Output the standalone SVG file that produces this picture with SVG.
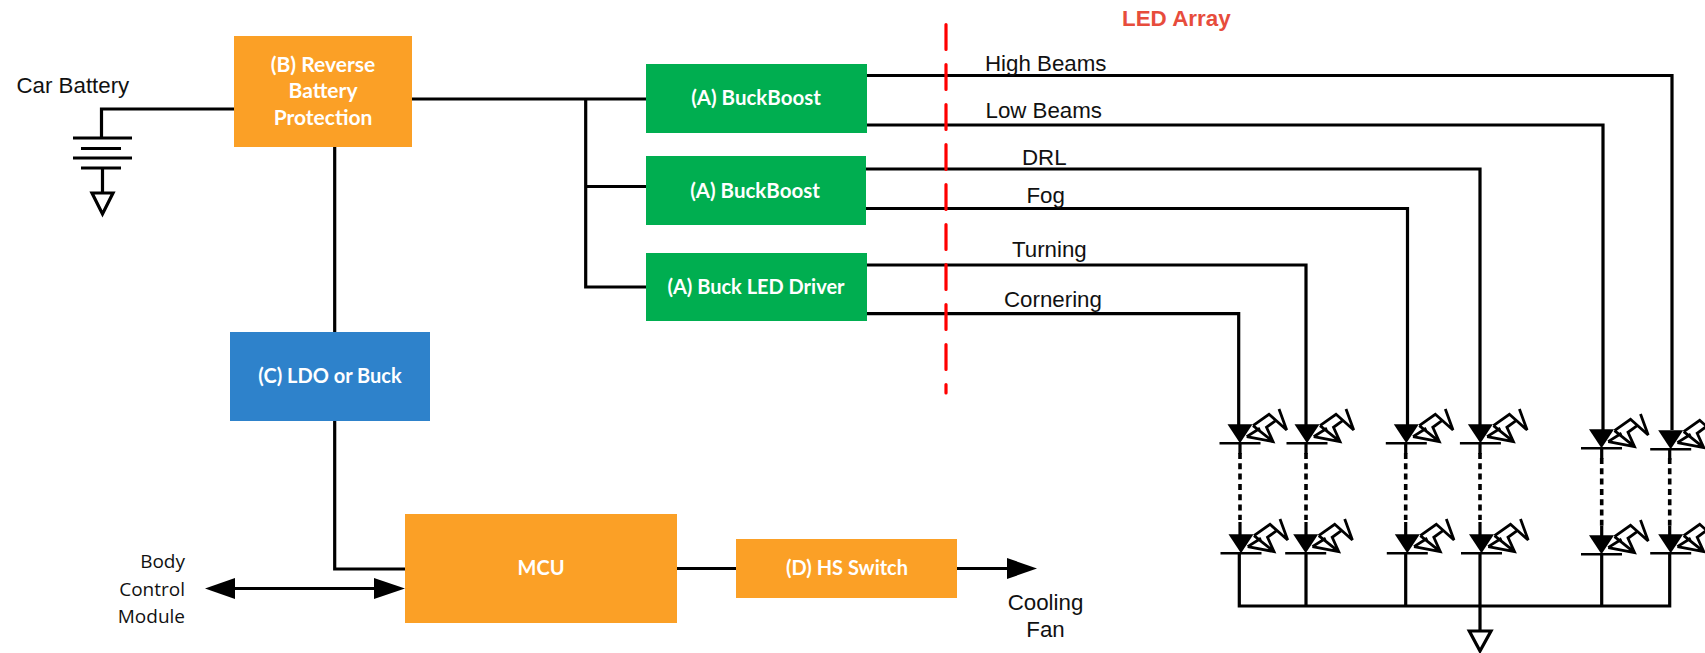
<svg xmlns="http://www.w3.org/2000/svg" width="1705" height="653" viewBox="0 0 1705 653">
<style>
.w{fill:none;stroke:#000;stroke-width:3.2;stroke-linejoin:miter}
.t{font-family:"Liberation Sans",Arial,sans-serif;font-size:22.3px;fill:#111}
.b{font-family:Lato,"Noto Sans",sans-serif;font-size:20px;font-weight:700;fill:#fff;text-anchor:middle}
.b2{font-size:20.500px}
.b3{font-size:21px}
.s{font-family:"Open Sans","Noto Sans",sans-serif;font-size:19px;fill:#111;text-anchor:end}
.o{fill:#FBA026}.g{fill:#00AE50}.u{fill:#2E82CB}
.d{fill:none;stroke:#000;stroke-width:3.6;stroke-dasharray:6 4.3}
.h{fill:#000}
.gnd{fill:#fff;stroke:#000;stroke-width:3.2}
</style>
<defs>
<g id="led">
<path d="M-12.500-19H12.500L0 0Z" fill="#000"/>
<path d="M-20.500 0H20.500" stroke="#000" stroke-width="2.600" fill="none"/>
<path d="M6.700-6.700L33-1.700 26.500-16 36-23M6.700-6.700L20-15M13-17.700L33-1.700M13-17.700L29-29 46.700-13.300 39-34.300" fill="none" stroke="#000" stroke-width="2.800"/>
</g>
</defs>
<g id="connectors">
<path class="w" d="M234 109H101.500V138"/>
<path class="w" d="M412 99H646M585.700 99V287H646M585.700 186.500H646"/>
<path class="w" d="M334.700 147V332M334.700 421V569H405"/>
<path class="w" d="M235 588.500H374"/>
<path class="h" d="M205 588.500L235 578V599Z"/>
<path class="h" d="M405 588.500L374 578V599Z"/>
<path class="w" d="M677 568.500H736M957 568.500H1007"/>
<path class="h" d="M1037 568.500L1007 558V579Z"/>
<path class="w" d="M867 75.500H1672V430"/>
<path class="w" d="M867 125H1603V430"/>
<path class="w" d="M866 169H1480V425"/>
<path class="w" d="M866 208.500H1407.500V425"/>
<path class="w" d="M867 265H1306V425"/>
<path class="w" d="M867 313.700H1238.700V425"/>
<path class="w" d="M1239.300 553V606H1669.700V553M1306 553V606M1405.700 553V606M1480 553V630M1601.700 553V606"/>
<path class="d" d="M1240 453V520M1306 453V520M1405.700 453V520M1480 453V520M1601.700 458V526M1669.700 458V526"/>
<path class="w" d="M1240 443V454M1240 522V536M1306 443V454M1306 522V536M1405.700 443V454M1405.700 522V536M1480 443V454M1480 522V536M1601.700 448V459M1601.700 526V536M1669.700 449V460M1669.700 526V536"/>
<path id="red-divider" d="M946 24.500V393" fill="none" stroke="#F00" stroke-width="3.200" stroke-linecap="round" stroke-dasharray="25 15"/>
</g>
<g id="battery">
<path class="w" d="M73 138H132M73 158H132M81 148.500H121M81 168H121M102.500 168V193"/>
<path class="gnd" d="M92 193H113L102.500 214Z"/>
<text class="t" x="16.500" y="93">Car Battery</text>
</g>
<g id="node-b"><rect class="o" x="234" y="36" width="178" height="111"/>
<text class="b b3" x="323" y="72">(B) Reverse</text><text class="b b3" x="323" y="98">Battery</text><text class="b b3" x="323" y="125">Protection</text></g>
<g id="node-a1"><rect class="g" x="646" y="64" width="221" height="69"/><text class="b b2" x="756" y="105">(A) BuckBoost</text></g>
<g id="node-a2"><rect class="g" x="646" y="156" width="220" height="69"/><text class="b b2" x="755" y="197.500">(A) BuckBoost</text></g>
<g id="node-a3"><rect class="g" x="646" y="253" width="221" height="68"/><text class="b" x="756" y="294">(A) Buck LED Driver</text></g>
<g id="node-c"><rect class="u" x="230" y="332" width="200" height="89"/><text class="b" x="330" y="383">(C) LDO or Buck</text></g>
<g id="node-mcu"><rect class="o" x="405" y="514" width="272" height="109"/><text class="b" x="541" y="575">MCU</text></g>
<g id="node-d"><rect class="o" x="736" y="539" width="221" height="59"/><text class="b" x="847" y="575">(D) HS Switch</text></g>
<g id="body-control"><text class="s" x="185" y="568">Body</text><text class="s" x="185" y="596">Control</text><text class="s" x="185" y="623">Module</text></g>
<g id="cooling-fan"><text class="t" x="1045.500" y="610" text-anchor="middle">Cooling</text><text class="t" x="1045.500" y="636.500" text-anchor="middle">Fan</text></g>
<g id="labels">
<text x="1122" y="26" font-family="'Liberation Sans',Arial,sans-serif" font-size="22.400" font-weight="700" fill="#E74C3C">LED Array</text>
<text class="t" x="985" y="71">High Beams</text>
<text class="t" x="985.500" y="118">Low Beams</text>
<text class="t" x="1022" y="165">DRL</text>
<text class="t" x="1026.500" y="203">Fog</text>
<text class="t" x="1012" y="257">Turning</text>
<text class="t" x="1004" y="307">Cornering</text>
</g>
<g id="led-array">
<use href="#led" x="1240" y="443.300"/><use href="#led" x="1307" y="443.300"/><use href="#led" x="1406.300" y="443.300"/><use href="#led" x="1480.400" y="443.300"/><use href="#led" x="1601.500" y="448.300"/><use href="#led" x="1670.700" y="449.300"/>
<use href="#led" x="1241" y="553.300"/><use href="#led" x="1305.700" y="553.300"/><use href="#led" x="1407.300" y="553.300"/><use href="#led" x="1481.500" y="553.300"/><use href="#led" x="1601.500" y="554.300"/><use href="#led" x="1670.700" y="553.300"/>
</g>
<g id="ground"><path class="gnd" d="M1469.300 631H1491L1480 651Z"/></g>
</svg>
